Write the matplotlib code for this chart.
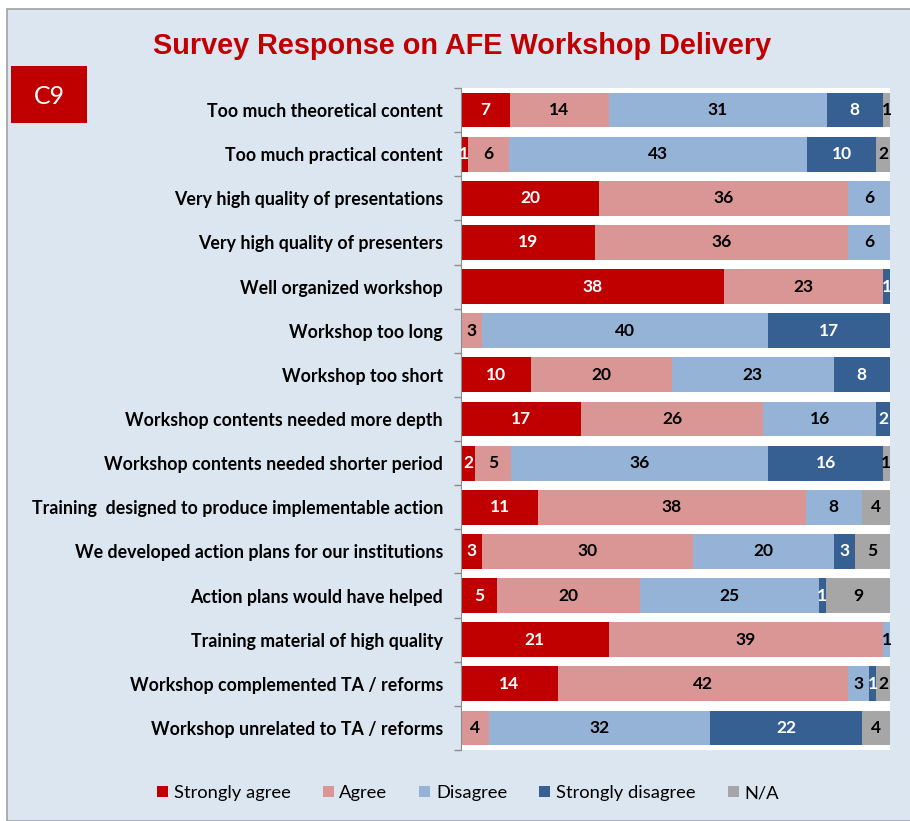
import numpy as np
import matplotlib.pyplot as plt
from matplotlib.patches import Rectangle
from matplotlib.ticker import FixedLocator

# Survey categories (top to bottom) and counts per response.
questions = [
    'Too much theoretical content',
    'Too much practical content',
    'Very high quality of presentations',
    'Very high quality of presenters',
    'Well organized workshop',
    'Workshop too long',
    'Workshop too short',
    'Workshop contents needed more depth',
    'Workshop contents needed shorter period',
    'Training  designed to produce implementable action',
    'We developed action plans for our institutions',
    'Action plans would have helped',
    'Training material of high quality',
    'Workshop complemented TA / reforms',
    'Workshop unrelated to TA / reforms',
]
strongly_agree = [7, 1, 20, 19, 38, 0, 10, 17, 2, 11, 3, 5, 21, 14, 0]
agree = [14, 6, 36, 36, 23, 3, 20, 26, 5, 38, 30, 20, 39, 42, 4]
disagree = [31, 43, 6, 6, 0, 40, 23, 16, 36, 8, 20, 25, 1, 3, 32]
strongly_disagree = [8, 10, 0, 0, 1, 17, 8, 2, 16, 0, 3, 1, 0, 1, 22]
not_applicable = [1, 2, 0, 0, 0, 0, 0, 0, 1, 4, 5, 9, 0, 2, 4]

series = ['Strongly agree', 'Agree', 'Disagree', 'Strongly disagree', 'N/A']
colors = ['#C00000', '#DA9694', '#95B3D7', '#366092', '#A6A6A6']
text_colors = ['white', 'black', 'black', 'white', 'black']

counts = np.array([strongly_agree, agree, disagree, strongly_disagree, not_applicable], dtype=float)
totals = counts.sum(axis=0)
shares = counts / totals * 100

bg = '#DCE6F1'
fig = plt.figure(figsize=(9.1, 8.21), dpi=100)
fig.patch.set_facecolor('white')

# Outer chart frame, kept behind the axes.
W, H = 910, 821
fig.patches.append(Rectangle((7 / W, 0), 1.0, 1 - 9 / H, transform=fig.transFigure,
                             facecolor=bg, edgecolor='#A0A0A0', linewidth=1.2, zorder=-5))

ax = fig.add_axes([461 / W, 1 - 750 / H, (890 - 461) / W, (750 - 88) / H])
ax.set_facecolor('white')

y = np.arange(len(questions))
left = np.zeros(len(questions))
for i, name in enumerate(series):
    bars = ax.barh(y, shares[i], left=left, height=0.79, color=colors[i], label=name)
    labels = [f'{int(c)}' if c > 0 else '' for c in counts[i]]
    ax.bar_label(bars, labels=labels, label_type='center', color=text_colors[i],
                 fontsize=12.5, fontweight='bold', family='Lato')
    left += shares[i]

ax.set_xlim(0, 100)
ax.set_ylim(len(questions) - 0.5, -0.5)
ax.set_yticks(y)
ax.set_yticklabels(questions, fontsize=12.8, fontweight='bold', family='Lato')
ax.tick_params(axis='y', which='major', length=0, pad=13)
ax.yaxis.set_minor_locator(FixedLocator(np.arange(-0.5, len(questions), 1)))
ax.tick_params(axis='y', which='minor', length=5, color='#8C8C8C', width=1)
ax.set_xticks([])
for side in ['top', 'right', 'bottom']:
    ax.spines[side].set_visible(False)
ax.spines['left'].set_color('#8C8C8C')

fig.text(462 / W, 1 - 46 / H, 'Survey Response on AFE Workshop Delivery',
         ha='center', va='center', fontsize=20.8, fontweight='bold', color='#C00000',
         family=['Liberation Sans Narrow', 'Liberation Sans'])

# "C9" tag box.
fig.patches.append(Rectangle((11 / W, 1 - 123 / H), 76 / W, 57 / H, transform=fig.transFigure,
                             facecolor='#C00000', edgecolor='none', zorder=1))
fig.text(49 / W, 1 - 96 / H, 'C9', ha='center', va='center', fontsize=18,
         color='white', family='Lato')

fig.legend(loc='center', bbox_to_anchor=(468 / W, 1 - 793 / H), ncol=5, frameon=False,
           handlelength=0.6, handleheight=0.6, handletextpad=0.3, columnspacing=1.75,
           prop={'family': 'Lato', 'size': 13.2})

fig.savefig('out.png', dpi=100, facecolor=fig.get_facecolor())
